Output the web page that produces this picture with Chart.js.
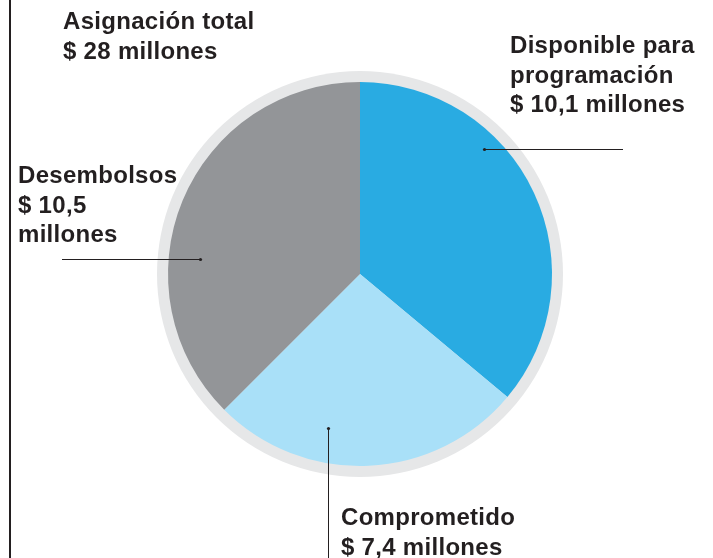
<!DOCTYPE html>
<html lang="es">
<head>
<meta charset="utf-8">
<title>Asignación total</title>
<script src="https://cdn.jsdelivr.net/npm/chart.js@4/dist/chart.umd.min.js"></script>
<style>
  html, body { margin: 0; padding: 0; background: #fff; }
  #wrap { position: relative; width: 713px; height: 558px; }
  #leftRule { position: absolute; left: 9px; top: 0; width: 2px; height: 558px; background: #231f20; }
</style>
</head>
<body>
<div id="wrap">
  <canvas id="pie" width="713" height="558"></canvas>
  <div id="leftRule"></div>
</div>
<script>
// Slices, clockwise from 12 o'clock (millones de dólares)
const sliceNames = ['Disponible para programación', 'Comprometido', 'Desembolsos'];
const sliceValues = [10.1, 7.4, 10.5];
const sliceColors = ['#29abe2', '#a9e0f8', '#939598'];

// Label text blocks
const titleLines = ['Asignación total', '$ 28 millones'];
const sliceLabelLines = [
  ['Disponible para', 'programación', '$ 10,1 millones'],
  ['Comprometido', '$ 7,4 millones'],
  ['Desembolsos', '$ 10,5', 'millones']
];

// Where each leader dot sits: angle (deg, clockwise from top) and radius fraction
const leaderAngles = [44.7, 191.7, 275.2];
const leaderRadius = [0.915, 0.82, 0.835];

const TEXT_COLOR = '#231f20';
const FONT = 'bold 24px "Liberation Sans", Arial, sans-serif';
const LINE_H = 29.5;

function drawLines(ctx, lines, x, y) {
  lines.forEach((t, i) => ctx.fillText(t, x, y + i * LINE_H));
}

// Grey halo behind the pie
const haloPlugin = {
  id: 'halo',
  beforeDatasetsDraw(chart) {
    const arc = chart.getDatasetMeta(0).data[0];
    if (!arc) return;
    const ctx = chart.ctx;
    ctx.save();
    ctx.beginPath();
    ctx.arc(arc.x, arc.y, arc.outerRadius + 11, 0, Math.PI * 2);
    ctx.fillStyle = '#e6e7e8';
    ctx.fill();
    ctx.restore();
  }
};

// Labels with leader lines
const labelPlugin = {
  id: 'labels',
  afterDatasetsDraw(chart) {
    const arc = chart.getDatasetMeta(0).data[0];
    if (!arc) return;
    const ctx = chart.ctx;
    const cx = arc.x, cy = arc.y, r = arc.outerRadius;
    const dot = i => {
      const a = leaderAngles[i] * Math.PI / 180;
      return [Math.round(cx + Math.sin(a) * r * leaderRadius[i]) + 0.5,
              Math.round(cy - Math.cos(a) * r * leaderRadius[i]) + 0.5];
    };

    ctx.save();
    ctx.strokeStyle = TEXT_COLOR;
    ctx.fillStyle = TEXT_COLOR;
    ctx.lineWidth = 1;

    // Disponible: line runs right
    let [x, y] = dot(0);
    ctx.beginPath(); ctx.moveTo(x, y); ctx.lineTo(623, y); ctx.stroke();
    ctx.beginPath(); ctx.arc(x, y, 1.6, 0, Math.PI * 2); ctx.fill();

    // Comprometido: line runs down
    [x, y] = dot(1);
    ctx.beginPath(); ctx.moveTo(x, y); ctx.lineTo(x, 560); ctx.stroke();
    ctx.beginPath(); ctx.arc(x, y, 1.6, 0, Math.PI * 2); ctx.fill();

    // Desembolsos: line runs left
    [x, y] = dot(2);
    ctx.beginPath(); ctx.moveTo(x, y); ctx.lineTo(62, y); ctx.stroke();
    ctx.beginPath(); ctx.arc(x, y, 1.6, 0, Math.PI * 2); ctx.fill();

    ctx.font = FONT;
    ctx.letterSpacing = '0.3px';
    ctx.textBaseline = 'alphabetic';
    ctx.textAlign = 'left';
    drawLines(ctx, titleLines, 63, 29);
    drawLines(ctx, sliceLabelLines[0], 510, 53);
    drawLines(ctx, sliceLabelLines[1], 341, 525);
    drawLines(ctx, sliceLabelLines[2], 18, 183);
    ctx.restore();
  }
};

new Chart(document.getElementById('pie'), {
  type: 'pie',
  data: {
    labels: sliceNames,
    datasets: [{
      data: sliceValues,
      backgroundColor: sliceColors,
      borderWidth: 0
    }]
  },
  options: {
    responsive: false,
    animation: false,
    rotation: 0,
    layout: { padding: { left: 7, right: 0, top: 82, bottom: 92 } },
    plugins: {
      legend: { display: false },
      tooltip: { enabled: false }
    }
  },
  plugins: [haloPlugin, labelPlugin]
});
</script>
</body>
</html>
